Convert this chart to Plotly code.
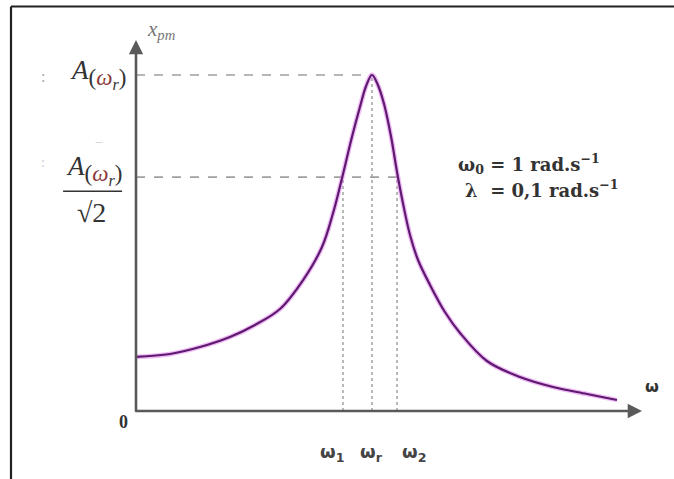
import plotly.graph_objects as go

# ---- data ----
omega = [0.0, 0.144, 0.271, 0.398, 0.504, 0.610, 0.708, 0.788, 0.835, 0.869, 0.915,
         0.949, 0.975, 1.000, 1.025, 1.051, 1.081, 1.106, 1.131, 1.161, 1.195, 1.246,
         1.309, 1.373, 1.487, 1.627, 1.767, 1.911, 2.038]
amplitude = [0.804, 0.848, 0.952, 1.101, 1.280, 1.518, 1.949, 2.440, 2.946, 3.408, 4.077,
             4.524, 4.836, 5.000, 4.851, 4.568, 4.077, 3.557, 3.095, 2.619, 2.247, 1.875,
             1.473, 1.161, 0.744, 0.506, 0.357, 0.253, 0.164]
A_r = 5.0
A_half = 3.48
omega_marks = [0.877, 1.0, 1.106]
omega_labels = ["ω<sub>1</sub>", "ω<sub>r</sub>", "ω<sub>2</sub>"]
omega_label_x = [0.831, 0.998, 1.178]
omega_max = 2.144
y_arrow = 5.52
params_text = ["ω<sub>0</sub> = 1 rad.s<sup>−1</sup>", "λ  = 0,1 rad.s<sup>−1</sup>"]

W, H = 674, 479
x0_px, xs = 136, 236.0
y0_px, ys = 411, 67.2
xr = [(0 - x0_px) / xs, (W - x0_px) / xs]
yr = [(y0_px - H) / ys, (y0_px - 0) / ys]

fig = go.Figure()
# glow + core of curve
fig.add_trace(go.Scatter(x=omega, y=amplitude, mode="lines",
                         line=dict(color="rgba(225,120,240,0.5)", width=4.8, shape="spline", smoothing=1.0),
                         hoverinfo="skip", showlegend=False))
fig.add_trace(go.Scatter(x=omega, y=amplitude, mode="lines",
                         line=dict(color="#5e1a6e", width=2.2, shape="spline", smoothing=1.0),
                         showlegend=False))

dash = dict(color="#a0a0a0", width=1.6, dash="dash")
dot = dict(color="#a8a8a8", width=1.6, dash="dot")
shapes = []
# horizontal guides
shapes.append(dict(type="line", xref="x", yref="y", x0=0, x1=omega_marks[1], y0=A_r, y1=A_r, line=dash, layer="below"))
shapes.append(dict(type="line", xref="x", yref="y", x0=0, x1=omega_marks[2], y0=A_half, y1=A_half, line=dash, layer="below"))
# vertical guides
shapes.append(dict(type="line", xref="x", yref="y", x0=omega_marks[0], x1=omega_marks[0], y0=0, y1=A_half, line=dot, layer="below"))
shapes.append(dict(type="line", xref="x", yref="y", x0=omega_marks[1], x1=omega_marks[1], y0=0, y1=A_r, line=dot, layer="below"))
shapes.append(dict(type="line", xref="x", yref="y", x0=omega_marks[2], x1=omega_marks[2], y0=0, y1=A_half, line=dot, layer="below"))
# frame (top and left borders)
shapes.append(dict(type="line", xref="paper", yref="paper", x0=11 / W, x1=1, y0=1 - 6.5 / H, y1=1 - 6.5 / H,
                   line=dict(color="#222", width=2.2)))
shapes.append(dict(type="line", xref="paper", yref="paper", x0=11 / W, x1=11 / W, y0=0, y1=1 - 6.5 / H,
                   line=dict(color="#222", width=2.2)))
# fraction bar
shapes.append(dict(type="line", xref="x", yref="y", x0=-0.309, x1=-0.059, y0=3.27, y1=3.27,
                   line=dict(color="#333", width=1.5)))

ann = []
# axes with arrows
ann.append(dict(x=0, y=y_arrow, ax=0, ay=-0.03, xref="x", yref="y", axref="x", ayref="y", text="",
                showarrow=True, arrowhead=2, arrowsize=1.1, arrowwidth=2.6, arrowcolor="#5a5a5a"))
ann.append(dict(x=omega_max, y=0, ax=-0.01, ay=0, xref="x", yref="y", axref="x", ayref="y", text="",
                showarrow=True, arrowhead=2, arrowsize=1.1, arrowwidth=2.6, arrowcolor="#5a5a5a"))
serif = "Liberation Serif"
A_lbl = ("<i>A</i><sub><span style='font-size:23px'>(<span style='color:#8a3a3a'><i>ω</i></span>"
         "<sub><i>r</i></sub>)</span></sub>")
ann.append(dict(x=0.04, y=5.67, xref="x", yref="y", text="<i>x<sub>pm</sub></i>", showarrow=False,
                xanchor="left", font=dict(family=serif, size=21, color="#777")))
ann.append(dict(x=-0.036, y=A_r + 0.02, xref="x", yref="y", text=A_lbl,
                showarrow=False, xanchor="right", font=dict(family=serif, size=27, color="#333")))
ann.append(dict(x=-0.18, y=3.58, xref="x", yref="y", text=A_lbl,
                showarrow=False, xanchor="center", font=dict(family=serif, size=27, color="#333")))
ann.append(dict(x=-0.19, y=2.96, xref="x", yref="y", text="√2",
                showarrow=False, xanchor="center", font=dict(family=serif, size=28, color="#333")))
ann.append(dict(x=-0.055, y=-0.17, xref="x", yref="y", text="<b>0</b>",
                showarrow=False, font=dict(family=serif, size=18, color="#333")))
ann.append(dict(x=2.186, y=0.36, xref="x", yref="y", text="<b>ω</b>",
                showarrow=False, font=dict(family="DejaVu Sans", size=16, color="#333")))
for xl, t in zip(omega_label_x, omega_labels):
    ann.append(dict(x=xl, y=-0.63, xref="x", yref="y", text="<b>" + t + "</b>",
                    showarrow=False, font=dict(family="DejaVu Sans", size=18, color="#444")))
ann.append(dict(x=1.358, y=3.68, xref="x", yref="y", text="<b>" + params_text[0] + "</b>",
                showarrow=False, xanchor="left", font=dict(family="DejaVu Serif", size=18, color="#333")))
ann.append(dict(x=1.385, y=3.3, xref="x", yref="y", text="<b>" + params_text[1] + "</b>",
                showarrow=False, xanchor="left", font=dict(family="DejaVu Serif", size=18, color="#333")))
# faint scan marks
ann.append(dict(x=-0.395, y=4.98, xref="x", yref="y", text=":", showarrow=False,
                font=dict(family=serif, size=16, color="#aaa")))
ann.append(dict(x=-0.395, y=3.7, xref="x", yref="y", text=":", showarrow=False,
                font=dict(family=serif, size=14, color="#ccc")))
ann.append(dict(x=-0.155, y=4.0, xref="x", yref="y", text="−", showarrow=False,
                font=dict(family=serif, size=14, color="#ccc")))

fig.update_layout(
    width=W, height=H, margin=dict(l=0, r=0, t=0, b=0),
    paper_bgcolor="white", plot_bgcolor="white",
    xaxis=dict(range=xr, visible=False, fixedrange=True),
    yaxis=dict(range=yr, visible=False, fixedrange=True),
    shapes=shapes, annotations=ann, showlegend=False,
)
fig.write_html("out.html", config={"displayModeBar": False},
               post_script="document.body.style.margin='0px';")
